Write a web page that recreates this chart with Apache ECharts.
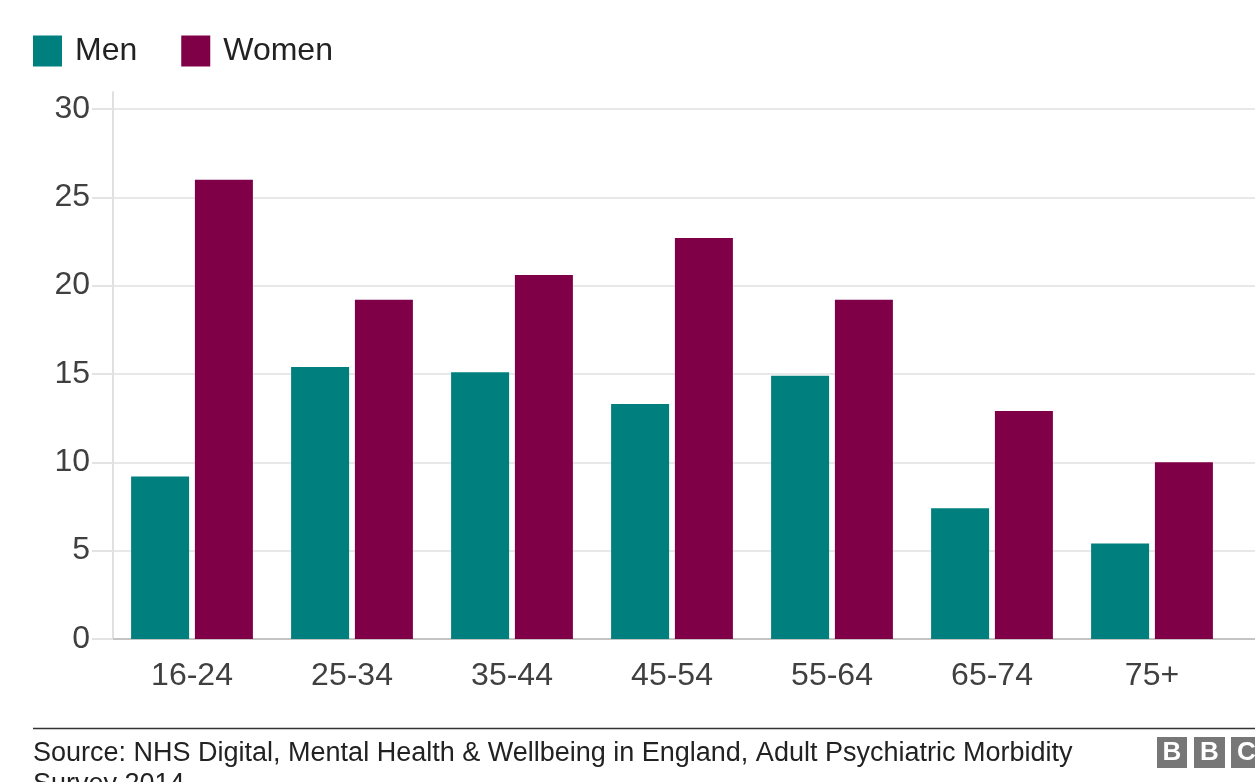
<!DOCTYPE html>
<html>
<head>
<meta charset="utf-8">
<script src="https://cdn.jsdelivr.net/npm/echarts@6/dist/echarts.min.js"></script>
<style>
  html, body { margin: 0; padding: 0; background: #ffffff; }
  #chart { width: 1255px; height: 782px; }
</style>
</head>
<body>
<div id="chart"></div>
<script>
// ---- data ----
const categories = ['16-24', '25-34', '35-44', '45-54', '55-64', '65-74', '75+'];
const men   = [9.2, 15.4, 15.1, 13.3, 14.9, 7.4, 5.4];
const women = [26.0, 19.2, 20.6, 22.7, 19.2, 12.9, 10.0];
const yTicks = { min: 0, max: 30, interval: 5 };
const sourceText = 'Source: NHS Digital, Mental Health & Wellbeing in England, Adult Psychiatric Morbidity\nSurvey 2014';

const FONT = '"Liberation Sans", Arial, sans-serif';
const chart = echarts.init(document.getElementById('chart'), null, { renderer: 'canvas' });

chart.setOption({
  animation: false,
  backgroundColor: '#ffffff',
  textStyle: { fontFamily: FONT },
  color: ['#007f7f', '#7f0047'],
  legend: {
    left: 28, top: 30,
    icon: 'rect',
    itemWidth: 29, itemHeight: 31,
    itemGap: 44,
    textStyle: { fontFamily: FONT, fontSize: 32, color: '#222222', padding: [0, 0, 0, 8] },
    data: ['Men', 'Women']
  },
  grid: [
    { left: 112, width: 1120, top: 109, bottom: 143 },   // bars
    { left: 113, right: 0, top: 109, bottom: 143 },      // gridlines, labels
    { left: 113, right: 0, top: 92, bottom: 143 }        // vertical axis line
  ],
  xAxis: [
    {
      gridIndex: 0, type: 'category', data: categories,
      axisLine: { show: false }, axisTick: { show: false },
      axisLabel: { fontFamily: FONT, fontSize: 32, color: '#404040', margin: 21 }
    },
    {
      gridIndex: 1, type: 'value', min: 0, max: 1,
      axisLine: { show: true, lineStyle: { color: '#c4c4c4', width: 2 } },
      axisTick: { show: false }, axisLabel: { show: false }, splitLine: { show: false }
    },
    {
      gridIndex: 2, type: 'value', min: 0, max: 1, show: false
    }
  ],
  yAxis: [
    {
      gridIndex: 0, type: 'value', min: yTicks.min, max: yTicks.max, interval: yTicks.interval,
      show: false, splitLine: { show: false }
    },
    {
      gridIndex: 1, type: 'value', min: yTicks.min, max: yTicks.max, interval: yTicks.interval,
      axisLine: { show: false },
      axisTick: { show: true, length: 21, lineStyle: { color: '#e3e3e3', width: 2 } },
      axisLabel: { fontFamily: FONT, fontSize: 32, color: '#404040', margin: 23 },
      splitLine: { show: true, lineStyle: { color: '#e8e8e8', width: 2 } }
    },
    {
      gridIndex: 2, type: 'value', min: 0, max: 1,
      axisLine: { show: true, lineStyle: { color: '#e0e0e0', width: 2 } },
      axisTick: { show: false }, axisLabel: { show: false }, splitLine: { show: false }
    }
  ],
  series: [
    {
      name: 'Men', type: 'bar', xAxisIndex: 0, yAxisIndex: 0,
      data: men, barWidth: 58, barGap: '10%',
      itemStyle: { color: '#007f7f' }
    },
    {
      name: 'Women', type: 'bar', xAxisIndex: 0, yAxisIndex: 0,
      data: women, barWidth: 58, barGap: '10%',
      itemStyle: { color: '#7f0047' }
    }
  ],
  graphic: [
    {
      type: 'line', silent: true,
      shape: { x1: 33, y1: 728.5, x2: 1255, y2: 728.5 },
      style: { stroke: '#333333', lineWidth: 1.5 }
    },
    {
      type: 'text', left: 33, top: 738, silent: true,
      style: { text: sourceText, font: '27px ' + FONT, fill: '#222222', lineHeight: 31 }
    },
    { type: 'rect', silent: true, shape: { x: 1157, y: 737, width: 30, height: 31 }, style: { fill: '#777777' } },
    { type: 'rect', silent: true, shape: { x: 1194, y: 737, width: 31, height: 31 }, style: { fill: '#777777' } },
    { type: 'rect', silent: true, shape: { x: 1231, y: 737, width: 31, height: 31 }, style: { fill: '#777777' } },
    { type: 'text', silent: true, x: 1172, y: 753, style: { text: 'B', font: 'bold 26px ' + FONT, fill: '#ffffff', align: 'center', verticalAlign: 'middle' } },
    { type: 'text', silent: true, x: 1209.5, y: 753, style: { text: 'B', font: 'bold 26px ' + FONT, fill: '#ffffff', align: 'center', verticalAlign: 'middle' } },
    { type: 'text', silent: true, x: 1246.5, y: 753, style: { text: 'C', font: 'bold 26px ' + FONT, fill: '#ffffff', align: 'center', verticalAlign: 'middle' } }
  ]
});
</script>
</body>
</html>
